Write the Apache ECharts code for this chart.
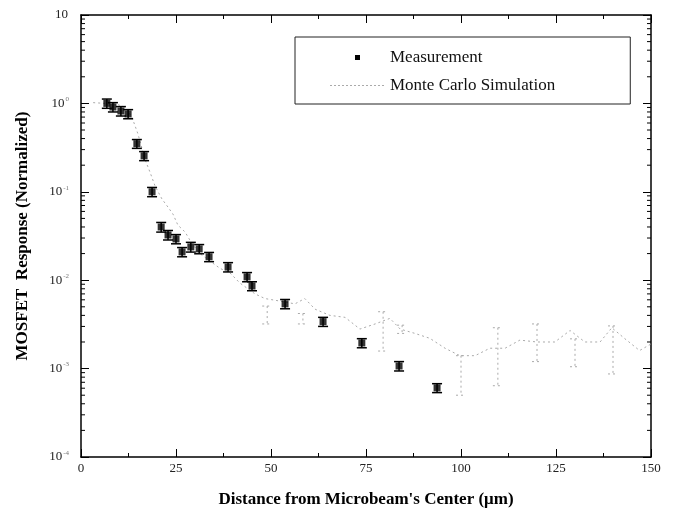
<!DOCTYPE html>
<html>
<head>
<meta charset="utf-8">
<script src="https://cdn.jsdelivr.net/npm/echarts@6/dist/echarts.min.js"></script>
<style>
html,body{margin:0;padding:0;background:#fff;}
#chart{width:674px;height:522px;}
</style>
</head>
<body>
<div id="chart"></div>
<script>
// Measurement data
const measX = [6.8, 8.4, 10.5, 12.4, 14.7, 16.6, 18.7, 21.1, 22.9, 25.0, 26.6, 28.9, 31.1, 33.7, 38.7, 43.7, 45.0, 53.7, 63.7, 73.9, 83.7, 93.7];
const measY = [1.0, 0.91, 0.82, 0.76, 0.35, 0.255, 0.10, 0.040, 0.0325, 0.0293, 0.0209, 0.0238, 0.0226, 0.0184, 0.0141, 0.0109, 0.0086, 0.0054, 0.0034, 0.00195, 0.00107, 0.000605];
const measErr = [0.12, 0.11, 0.10, 0.09, 0.04, 0.03, 0.012, 0.005, 0.004, 0.0035, 0.0025, 0.003, 0.0027, 0.0022, 0.0017, 0.0013, 0.001, 0.00065, 0.0004, 0.00023, 0.00013, 0.00007];

// Monte Carlo simulation
const simX = [3.2, 6.3, 9.0, 11.6, 13.4, 15.0, 16.8, 18.2, 19.5, 21.3, 22.9, 24.2, 25.5, 27.4, 29.2, 31.3, 33.9, 36.6, 39.2, 41.8, 45.8, 48.4, 52.4, 56.3, 58.9, 61.6, 65.5, 69.5, 73.4, 77.4, 81.3, 84.0, 87.9, 91.8, 95.8, 99.7, 103.7, 107.6, 111.6, 115.5, 120.0, 124.7, 128.7, 132.6, 136.6, 139.7, 143.0, 147.0, 150.0];
const simY = [1.02, 1.0, 0.99, 0.91, 0.70, 0.45, 0.235, 0.165, 0.116, 0.083, 0.067, 0.056, 0.042, 0.035, 0.026, 0.020, 0.0165, 0.0136, 0.0121, 0.0093, 0.0070, 0.0062, 0.0058, 0.0054, 0.0062, 0.0047, 0.0040, 0.0038, 0.0028, 0.0032, 0.0037, 0.0028, 0.0025, 0.0022, 0.0017, 0.0014, 0.0014, 0.0017, 0.0017, 0.0021, 0.0020, 0.0020, 0.0027, 0.0020, 0.0020, 0.0029, 0.0022, 0.0016, 0.0019];
const simBarX = [49.0, 58.4, 79.5, 84.5, 100.0, 109.7, 120.0, 130.0, 140.0];
const simBarLow = [0.0032, 0.0032, 0.00158, 0.0025, 0.0005, 0.00064, 0.0012, 0.00105, 0.00087];
const simBarHigh = [0.0051, 0.0042, 0.0044, 0.0031, 0.0014, 0.0029, 0.0032, 0.00217, 0.00304];

// Axis ticks
const xTicks = [0, 25, 50, 75, 100, 125, 150];
const yExps = ['1', '0', '-1', '-2', '-3', '-4'];

const FONT = '"Liberation Serif", "DejaVu Serif", serif';

const measPoints = measX.map((x, i) => [x, measY[i]]);
const measBars = measX.map((x, i) => [x, measY[i] - measErr[i], measY[i] + measErr[i]]);
const simPoints = simX.map((x, i) => [x, simY[i]]);
const simBars = simBarX.map((x, i) => [x, simBarLow[i], simBarHigh[i]]);

// log minor tick values (2..9 x 10^k)
const minorVals = [];
for (let k = -4; k < 1; k++) {
  for (let m = 2; m <= 9; m++) minorVals.push([m * Math.pow(10, k)]);
}

function barRenderer(color, lw, w, dash) {
  return function (params, api) {
    const x = api.value(0), lo = api.value(1), hi = api.value(2);
    const p1 = api.coord([x, hi]), p2 = api.coord([x, lo]);
    const style = { stroke: color, lineWidth: lw, lineDash: dash };
    return {
      type: 'group', children: [
        { type: 'line', shape: { x1: p1[0], y1: p1[1], x2: p2[0], y2: p2[1] }, style },
        { type: 'line', shape: { x1: p1[0] - w, y1: p1[1], x2: p1[0] + w, y2: p1[1] }, style },
        { type: 'line', shape: { x1: p2[0] - w, y1: p2[1], x2: p2[0] + w, y2: p2[1] }, style }
      ]
    };
  };
}

function minorTickRender(params, api) {
  const cs = params.coordSys;
  const y = api.coord([0, api.value(0)])[1];
  const style = { stroke: '#000', lineWidth: 1 };
  return {
    type: 'group', children: [
      { type: 'line', shape: { x1: cs.x, y1: y, x2: cs.x + 4, y2: y }, style },
      { type: 'line', shape: { x1: cs.x + cs.width, y1: y, x2: cs.x + cs.width - 4, y2: y }, style }
    ]
  };
}

const chart = echarts.init(document.getElementById('chart'), null, { renderer: 'canvas' });

const yLabelFmt = function (v) {
  const e = Math.round(Math.log10(v));
  return '{b|10}{s|' + (e === 1 ? '' : e) + '}';
};

// dotted legend icon for the simulation
let dotIcon = 'path://M0,0L0.01,0Z M55,10L55.01,10Z';
for (let i = 0; i < 55; i += 4) dotIcon += ' M' + i + ',4.5h2v1h-2Z';

chart.setOption({
  animation: false,
  backgroundColor: '#fff',
  textStyle: { fontFamily: FONT },
  grid: { left: 81, right: 23, top: 15, bottom: 65, containLabel: false },
  legend: {
    orient: 'vertical',
    left: 295, top: 37,
    padding: [12, 75, 10, 35],
    borderColor: '#222', borderWidth: 1,
    itemGap: 11,
    itemWidth: 55, itemHeight: 10,
    textStyle: { fontFamily: FONT, fontSize: 17, color: '#111' },
    data: [
      { name: 'Measurement', icon: 'path://M0,0L0.01,0Z M55,10L55.01,10Z M25,2.5h5v5h-5Z', itemStyle: { color: '#000' } },
      { name: 'Monte Carlo Simulation', icon: dotIcon, itemStyle: { color: '#aaa' } }
    ]
  },
  xAxis: [{
    type: 'value', min: 0, max: 150, interval: 25,
    name: 'Distance from Microbeam\'s Center (\u03bcm)',
    nameLocation: 'middle', nameGap: 34,
    nameTextStyle: { fontFamily: FONT, fontSize: 17, fontWeight: 'bold', color: '#000' },
    axisLine: { show: true, onZero: false, lineStyle: { color: '#000', width: 1.5 } },
    axisTick: { show: true, inside: true, length: 8, lineStyle: { color: '#000' } },
    minorTick: { show: true, splitNumber: 2, length: 4, lineStyle: { color: '#000' } },
    axisLabel: { fontFamily: FONT, fontSize: 13, color: '#222', margin: 5 },
    splitLine: { show: false }
  }, {
    type: 'value', min: 0, max: 150, interval: 25, position: 'top',
    axisLine: { show: true, onZero: false, lineStyle: { color: '#000', width: 1.5 } },
    axisTick: { show: true, inside: true, length: 8, lineStyle: { color: '#000' } },
    minorTick: { show: true, splitNumber: 2, length: 4, lineStyle: { color: '#000' } },
    axisLabel: { show: false },
    splitLine: { show: false }
  }],
  yAxis: [{
    type: 'log', logBase: 10, min: 0.0001, max: 10,
    name: 'MOSFET  Response (Normalized)',
    nameLocation: 'middle', nameGap: 50,
    nameTextStyle: { fontFamily: FONT, fontSize: 17, fontWeight: 'bold', color: '#000' },
    axisLine: { show: true, onZero: false, lineStyle: { color: '#000', width: 1.5 } },
    axisTick: { show: true, inside: true, length: 8, lineStyle: { color: '#000' } },
    axisLabel: {
      formatter: yLabelFmt, margin: 12,
      rich: {
        b: { fontFamily: FONT, fontSize: 13, color: '#222' },
        s: { fontFamily: FONT, fontSize: 7, color: '#777', verticalAlign: 'top', padding: [0, 0, 8, 1] }
      }
    },
    splitLine: { show: false }
  }, {
    type: 'log', logBase: 10, min: 0.0001, max: 10, position: 'right',
    axisLine: { show: true, onZero: false, lineStyle: { color: '#000', width: 1.5 } },
    axisTick: { show: true, inside: true, length: 8, lineStyle: { color: '#000' } },
    axisLabel: { show: false },
    splitLine: { show: false }
  }],
  series: [
    {
      name: 'Monte Carlo Simulation', type: 'line', data: simPoints,
      xAxisIndex: 0, yAxisIndex: 0,
      showSymbol: false, symbol: 'none',
      lineStyle: { color: '#aaa', width: 1, type: [2, 3] },
      itemStyle: { color: '#aaa' },
      z: 2
    },
    {
      name: 'Monte Carlo Simulation', type: 'custom', data: simBars,
      encode: { x: 0, y: [1, 2] },
      renderItem: barRenderer('#aaa', 1, 5, [2, 3]),
      silent: true, z: 2
    },
    {
      name: 'Measurement', type: 'custom', data: measBars,
      encode: { x: 0, y: [1, 2] },
      renderItem: barRenderer('#000', 1.5, 5, null),
      silent: true, z: 3
    },
    {
      name: 'Measurement', type: 'scatter', data: measPoints,
      symbol: 'rect', symbolSize: 7,
      itemStyle: { color: '#000' },
      z: 4
    },
    {
      name: 'minorTicks', type: 'custom', data: minorVals,
      encode: { y: 0 },
      renderItem: minorTickRender,
      silent: true, z: 5
    }
  ]
});
</script>
</body>
</html>
